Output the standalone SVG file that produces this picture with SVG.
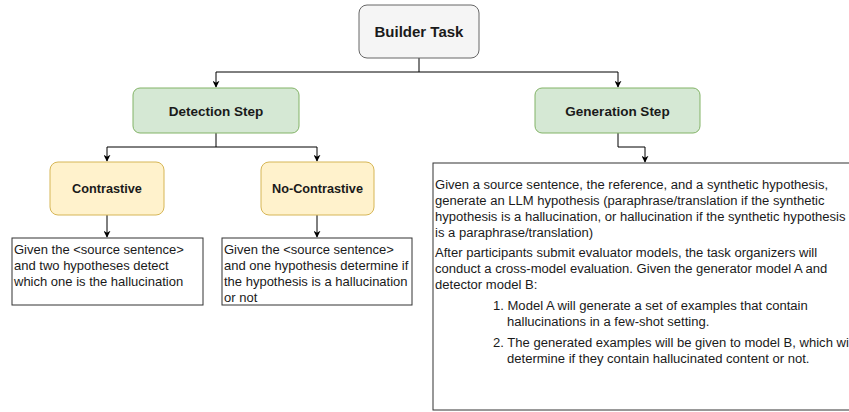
<svg xmlns="http://www.w3.org/2000/svg" width="849" height="412" viewBox="0 0 849 412">
<defs>
<marker id="arr" viewBox="0 0 10 10" refX="9" refY="5" markerWidth="7" markerHeight="7" orient="auto" markerUnits="userSpaceOnUse">
<path d="M0,0 L10,5 L0,10 L3,5 Z" fill="#000"/>
</marker>
<style>
.root{fill:#f5f5f5;stroke:#666666;stroke-width:1}
.step{fill:#d5e8d4;stroke:#82b366;stroke-width:1}
.sub{fill:#fff2cc;stroke:#d6b656;stroke-width:1}
.box{fill:#ffffff;stroke:#333333;stroke-width:1}
.lbl{font-family:"Liberation Sans",Arial,sans-serif;font-weight:bold;fill:#1a1a1a;text-anchor:middle}
.txt{font-family:"Liberation Sans",Arial,sans-serif;font-size:13px;fill:#1a1a1a}
.gtxt{font-family:"Liberation Sans",Arial,sans-serif;font-size:13.05px;fill:#1a1a1a}
.con{fill:none;stroke:#000;stroke-width:1}
</style>
</defs>
<rect width="849" height="412" fill="#ffffff"/>
<g id="connectors">
<path class="con" d="M419,58 V72 H216 V87" marker-end="url(#arr)"/>
<path class="con" d="M419,72 H618 V87" marker-end="url(#arr)"/>
<path class="con" d="M216,133 V147 H107 V161" marker-end="url(#arr)"/>
<path class="con" d="M216,147 H317 V161" marker-end="url(#arr)"/>
<path class="con" d="M107,215 V237" marker-end="url(#arr)"/>
<path class="con" d="M317,215 V237" marker-end="url(#arr)"/>
<path class="con" d="M618,133 V147 H645 V162" marker-end="url(#arr)"/>
</g>
<g id="builder">
<rect class="root" x="359" y="5" width="120" height="53" rx="8"/>
<text class="lbl" x="419" y="36.5" font-size="15">Builder Task</text>
</g>
<g id="detection">
<rect class="step" x="133" y="88" width="166" height="45" rx="7"/>
<text class="lbl" x="216" y="115.5" font-size="13.5">Detection Step</text>
</g>
<g id="generation">
<rect class="step" x="535" y="88" width="165" height="45" rx="7"/>
<text class="lbl" x="617.5" y="115.5" font-size="13.5">Generation Step</text>
</g>
<g id="contrastive">
<rect class="sub" x="50" y="162" width="114" height="53" rx="8"/>
<text class="lbl" x="107" y="193" font-size="12.7">Contrastive</text>
</g>
<g id="nocontrastive">
<rect class="sub" x="261" y="162" width="113" height="53" rx="8"/>
<text class="lbl" x="317.5" y="193" font-size="12.7">No-Contrastive</text>
</g>
<g id="contrastive-desc">
<rect class="box" x="12" y="238" width="191" height="67"/>
<text class="txt"><tspan x="14" y="254">Given the &lt;source sentence&gt;</tspan><tspan x="14" y="270">and two hypotheses detect</tspan><tspan x="14" y="286">which one is the hallucination</tspan></text>
</g>
<g id="nocontrastive-desc">
<rect class="box" x="222" y="238" width="190" height="67"/>
<text class="txt"><tspan x="224" y="254">Given the &lt;source sentence&gt;</tspan><tspan x="224" y="270">and one hypothesis determine if</tspan><tspan x="224" y="286">the hypothesis is a hallucination</tspan><tspan x="224" y="302">or not</tspan></text>
</g>
<g id="generation-desc">
<rect class="box" x="433" y="163" width="440" height="247"/>
<text class="gtxt"><tspan x="435" y="189">Given a source sentence, the reference, and a synthetic hypothesis,</tspan><tspan x="435" y="205">generate an LLM hypothesis (paraphrase/translation if the synthetic</tspan><tspan x="435" y="221">hypothesis is a hallucination, or hallucination if the synthetic hypothesis</tspan><tspan x="435" y="237">is a paraphrase/translation)</tspan><tspan x="435" y="257">After participants submit evaluator models, the task organizers will</tspan><tspan x="435" y="273">conduct a cross-model evaluation. Given the generator model A and</tspan><tspan x="435" y="289">detector model B:</tspan><tspan x="493" y="310">1. Model A will generate a set of examples that contain</tspan><tspan x="507" y="326">hallucinations in a few-shot setting.</tspan><tspan x="493" y="347">2. The generated examples will be given to model B, which will</tspan><tspan x="507" y="363">determine if they contain hallucinated content or not.</tspan></text>
</g>
</svg>
